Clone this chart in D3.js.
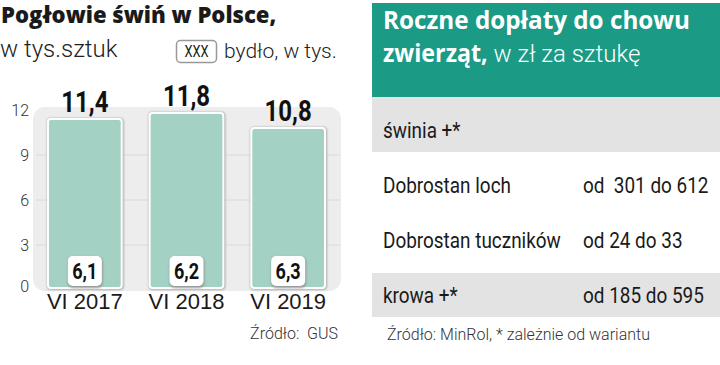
<!DOCTYPE html>
<html><head><meta charset="utf-8">
<script src="https://cdn.jsdelivr.net/npm/d3@7"></script>
<style>
html,body{margin:0;padding:0;background:#fff;}
svg{display:block;}
</style></head>
<body>
<svg id="c" width="720" height="365"></svg>
<script>
const categories = ["VI 2017", "VI 2018", "VI 2019"];
const pigs = [11.4, 11.8, 10.8];
const cattle = [6.1, 6.2, 6.3];
const yTicks = [0, 3, 6, 9, 12];
const tableLabels = ["świnia +*", "Dobrostan loch", "Dobrostan tuczników", "krowa +*"];
const tableValues = ["", "od  301 do 612", "od 24 do 33", "od 185 do 595"];

const fmt = v => String(v).replace(".", ",");
const svg = d3.select("#c");
const defs = svg.append("defs");
const f = defs.append("filter").attr("id","sh").attr("x","-20%").attr("y","-20%").attr("width","140%").attr("height","140%");
f.append("feGaussianBlur").attr("stdDeviation",1.2);

const ROBOTO = 'Roboto, "Liberation Sans", sans-serif';
const OPEN = '"Open Sans", sans-serif';
function condense(sel, k) {
  sel.each(function() {
    const w = this.getComputedTextLength();
    if (w > 0) d3.select(this).attr("textLength", w * k).attr("lengthAdjust", "spacingAndGlyphs");
  });
  return sel;
}

// ---- Left: title
condense(svg.append("text").attr("x",1).attr("y",23).attr("font-family",OPEN)
  .attr("font-weight",800).attr("font-size",23).attr("fill","#1a1a1a").text("Pogłowie świń w Polsce,"), 0.96);
svg.append("text").attr("x",0).attr("y",57).attr("font-family",ROBOTO).attr("font-weight",300)
  .attr("font-size",24).attr("fill","#222").text("w tys.sztuk");
// legend
svg.append("rect").attr("x",176.5).attr("y",40.5).attr("width",40).attr("height",22).attr("rx",4)
  .attr("fill","#fff").attr("stroke","#999").attr("stroke-width",1.5);
condense(svg.append("text").attr("x",196.5).attr("y",57).attr("text-anchor","middle").attr("font-family",ROBOTO)
  .attr("font-size",16).attr("fill","#222").text("XXX"), 0.8);
svg.append("text").attr("x",224).attr("y",58).attr("font-family",ROBOTO).attr("font-weight",300)
  .attr("font-size",21).attr("fill","#222").text("bydło, w tys.");

const x = d3.scaleBand().domain(categories).range([48, 325]).paddingInner(0.275).paddingOuter(0);
const y = d3.scaleLinear().domain([0, 12]).range([290, 110]);

svg.append("rect").attr("x",33).attr("y",107).attr("width",308).attr("height",184).attr("rx",12)
  .attr("fill","#ededed");
svg.append("g").selectAll("line").data(yTicks.filter(t => t > 0 && t < 12)).join("line")
  .attr("x1",36).attr("x2",340).attr("y1",d => y(d)).attr("y2",d => y(d))
  .attr("stroke","#dadada").attr("stroke-width",1);

const yAxis = svg.append("g").attr("transform","translate(29,0)")
  .call(d3.axisLeft(y).tickValues(yTicks).tickSize(0).tickPadding(0));
yAxis.select(".domain").remove();
yAxis.selectAll("text").attr("font-family",ROBOTO).attr("font-weight",300).attr("font-size",16)
  .attr("fill","#333").attr("dy","0.32em");
yAxis.selectAll("text").filter(d => d===0).attr("dy","0.1em");

const bars = svg.append("g");
bars.selectAll("rect.shadow").data(pigs).join("rect").attr("class","shadow")
  .attr("x",(d,i) => x(categories[i]) - 1).attr("y",d => y(d) - 1)
  .attr("width",x.bandwidth() + 3).attr("height",d => y(0) - y(d) + 1).attr("rx",4)
  .attr("fill","#aaa").attr("filter","url(#sh)");
bars.selectAll("rect.bar").data(pigs).join("rect").attr("class","bar")
  .attr("x",(d,i) => x(categories[i])).attr("y",d => y(d))
  .attr("width",x.bandwidth()).attr("height",d => y(0) - y(d) - 2).attr("rx",3)
  .attr("fill","#a3d1c3").attr("stroke","#fff").attr("stroke-width",2);

condense(svg.append("g").selectAll("text").data(pigs).join("text")
  .attr("x",(d,i) => x(categories[i]) + x.bandwidth()/2).attr("y",d => y(d) - 7)
  .attr("text-anchor","middle").attr("font-family",ROBOTO).attr("font-weight","bold")
  .attr("font-size",30).attr("fill","#111").text(d => fmt(d)), 0.8);

const inner = svg.append("g");
inner.selectAll("rect.s").data(cattle).join("rect").attr("class","s")
  .attr("x",(d,i) => x(categories[i]) + x.bandwidth()/2 - 17).attr("y",257)
  .attr("width",35).attr("height",31).attr("rx",5).attr("fill","#999").attr("filter","url(#sh)");
inner.selectAll("rect.b").data(cattle).join("rect").attr("class","b")
  .attr("x",(d,i) => x(categories[i]) + x.bandwidth()/2 - 17).attr("y",256)
  .attr("width",34).attr("height",30).attr("rx",5).attr("fill","#fff");
condense(inner.selectAll("text").data(cattle).join("text")
  .attr("x",(d,i) => x(categories[i]) + x.bandwidth()/2).attr("y",279)
  .attr("text-anchor","middle").attr("font-family",ROBOTO).attr("font-weight","bold")
  .attr("font-size",22).attr("fill","#111").text(d => fmt(d)), 0.82);

const xAxis = svg.append("g").attr("transform","translate(0,292)")
  .call(d3.axisBottom(x).tickSize(0).tickPadding(0));
xAxis.select(".domain").remove();
xAxis.selectAll("text").attr("font-family",'"Liberation Sans",Arial,sans-serif').attr("font-size",22)
  .attr("fill","#1a1a1a").attr("dy","0.78em");

svg.append("text").attr("x",338).attr("y",339).attr("text-anchor","end").attr("font-family",ROBOTO)
  .attr("font-weight",300).attr("font-size",16).attr("fill","#333").style("white-space","pre").text("Źródło:  GUS");

// ---- Right: table
svg.append("rect").attr("x",372).attr("y",3).attr("width",348).attr("height",94).attr("fill","#1b9a85");
condense(svg.append("text").attr("x",383).attr("y",29).attr("font-family",OPEN)
  .attr("font-weight",700).attr("font-size",25).attr("fill","#fff")
  .text("Roczne dopłaty do chowu"), 0.97);
const t2a = svg.append("text").attr("x",383).attr("y",62).attr("font-size",25).attr("fill","#fff")
  .attr("font-family",OPEN).attr("font-weight",700).text("zwierząt,");
condense(t2a, 0.93);
const t2w = +t2a.attr("textLength");
svg.append("text").attr("x",383 + t2w).attr("y",62).attr("font-size",24).attr("fill","#fff")
  .attr("font-family",ROBOTO).attr("font-weight",300).style("white-space","pre").text(" w zł za sztukę");

const rowY = d3.scaleBand().domain(tableLabels).range([97, 317]).padding(0);
const baselines = [138, 193, 248, 303];
const rows = svg.append("g").selectAll("g").data(tableLabels).join("g");
rows.append("rect").attr("x",372).attr("width",348)
  .attr("y",(d,i) => rowY(d) + (i === tableLabels.length - 1 ? 11 : 0))
  .attr("height",(d,i) => rowY.bandwidth() - (i === tableLabels.length - 1 ? 11 : 0))
  .attr("fill",d => d.endsWith("+*") ? "#e3e3e3" : "none");
condense(rows.append("text").attr("x",383).attr("y",(d,i) => baselines[i])
  .attr("font-family",ROBOTO).attr("font-size",22).attr("fill","#1a1a1a").text(d => d), 0.86);
condense(rows.append("text").attr("x",583).attr("y",(d,i) => baselines[i])
  .attr("font-family",ROBOTO).attr("font-size",22).attr("fill","#1a1a1a")
  .style("white-space","pre").text((d,i) => tableValues[i]), 0.86);

svg.append("text").attr("x",387).attr("y",340).attr("font-family",ROBOTO).attr("font-weight",300)
  .attr("font-size",16).attr("fill","#333").text("Źródło: MinRol, * zależnie od wariantu");
</script>
</body></html>
